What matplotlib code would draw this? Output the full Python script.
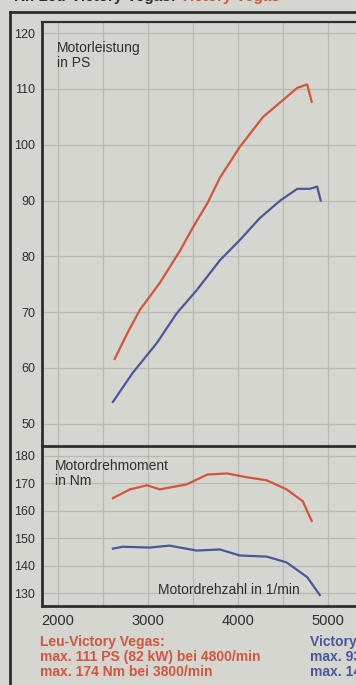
import matplotlib
matplotlib.use('Agg')
import matplotlib.pyplot as plt
from matplotlib.lines import Line2D

plt.rcParams['font.family'] = ['Liberation Sans', 'DejaVu Sans']

# Leistung (PS) ueber Drehzahl
rpm_ps_leu = [2630, 2770, 2910, 3130, 3360, 3500, 3660, 3800, 4020, 4280, 4500, 4660, 4770, 4820]
ps_leu = [61.6, 66.2, 70.4, 75.2, 81.1, 85.2, 89.5, 94.1, 99.6, 105.0, 108.0, 110.2, 110.8, 107.7]
rpm_ps_vic = [2610, 2830, 3100, 3320, 3540, 3800, 4020, 4240, 4470, 4660, 4800, 4880, 4920]
ps_vic = [53.9, 59.1, 64.5, 69.8, 73.9, 79.3, 82.9, 86.8, 90.0, 92.1, 92.1, 92.5, 90.0]

# Drehmoment (Nm) ueber Drehzahl
rpm_nm_leu = [2610, 2800, 2990, 3130, 3430, 3660, 3880, 4100, 4320, 4540, 4720, 4820]
nm_leu = [164.6, 167.8, 169.3, 167.8, 169.6, 173.2, 173.6, 172.2, 171.1, 167.8, 163.5, 156.3]
rpm_nm_vic = [2610, 2720, 3020, 3240, 3540, 3800, 4020, 4320, 4540, 4770, 4910]
nm_vic = [146.2, 146.9, 146.6, 147.3, 145.5, 145.9, 143.7, 143.3, 141.2, 135.8, 129.3]

ps_ticks = [50, 60, 70, 80, 90, 100, 110, 120]
nm_ticks = [130, 140, 150, 160, 170, 180]
rpm_ticks = [2000, 2500, 3000, 3500, 4000, 4500, 5000]
rpm_labels = ['2000', '', '3000', '', '4000', '', '5000']

W, H = 356, 685
bg = '#d6d6d1'
grid_c = '#bab8b1'
red = '#d2553c'
blue = '#4a5799'
dark = '#2e2e2e'

fig = plt.figure(figsize=(W / 100, H / 100), dpi=100, facecolor=bg)

def px_ax(x0, y0, x1, y1):
    return fig.add_axes([x0 / W, 1 - y1 / H, (x1 - x0) / W, (y1 - y0) / H])

ax1 = px_ax(42, 22, 372, 446)
ax2 = px_ax(42, 446, 372, 606)

for ax in (ax1, ax2):
    ax.set_facecolor(bg)
    ax.set_xlim(1822, 5490)
    ax.set_xticks(rpm_ticks)
    ax.grid(True, color=grid_c, lw=0.9)
    ax.set_axisbelow(True)
    ax.tick_params(length=0, labelcolor=dark)
    ax.tick_params(axis='y', labelsize=9, pad=5)
    for s in ax.spines.values():
        s.set_color(dark)
    ax.spines['right'].set_visible(False)
    ax.spines['left'].set_linewidth(2)

ax1.set_ylim(46.0, 122.0)
ax1.set_yticks(ps_ticks)
ax1.set_xticklabels([])
ax1.spines['top'].set_linewidth(1.6)
ax1.spines['bottom'].set_visible(False)
ax1.plot(rpm_ps_leu, ps_leu, color=red, lw=1.6)
ax1.plot(rpm_ps_vic, ps_vic, color=blue, lw=1.6)
ax1.text(1985, 118.6, 'Motorleistung\nin PS', fontsize=10, color=dark, va='top', ha='left', linespacing=1.1)

ax2.set_ylim(125.3, 183.6)
ax2.set_yticks(nm_ticks)
ax2.set_xticklabels(rpm_labels)
ax2.spines['top'].set_linewidth(2)
ax2.spines['bottom'].set_linewidth(2)
ax2.tick_params(axis='x', labelsize=10.5, pad=6)
ax2.plot(rpm_nm_leu, nm_leu, color=red, lw=1.6)
ax2.plot(rpm_nm_vic, nm_vic, color=blue, lw=1.6)
ax2.text(1970, 179.0, 'Motordrehmoment\nin Nm', fontsize=10, color=dark, va='top', ha='left', linespacing=1.1)
ax2.text(3110, 131.0, 'Motordrehzahl in 1/min', fontsize=10, color=dark, va='center', ha='left')

# aeusserer Rahmen
fig.add_artist(Line2D([10 / W, 10 / W], [0, 1 - 12 / H], color=dark, lw=2, transform=fig.transFigure))
fig.add_artist(Line2D([10 / W, 1], [1 - 12 / H, 1 - 12 / H], color=dark, lw=2, transform=fig.transFigure))

# angeschnittene Ueberschrift (wie im Original oben abgeschnitten)
fig.text(14 / W, 1 + 3 / H, 'Kr. Leu-Victory Vegas:', fontsize=11, fontweight='bold', color=dark, va='center', ha='left')
fig.text(180 / W, 1 + 3 / H, 'Victory Vegas', fontsize=11, fontweight='bold', color=red, va='center', ha='left')

fig.text(40 / W, 1 - 635 / H, 'Leu-Victory Vegas:\nmax. 111 PS (82 kW) bei 4800/min\nmax. 174 Nm bei 3800/min',
         fontsize=10, fontweight='bold', color=red, va='top', ha='left', linespacing=1.1)
fig.text(310 / W, 1 - 635 / H, 'Victory Vegas:\nmax. 93 PS (68 kW) bei 4900/min\nmax. 147 Nm bei 3300/min',
         fontsize=10, fontweight='bold', color=blue, va='top', ha='left', linespacing=1.1)

fig.savefig('out.png', dpi=100, facecolor=bg)
